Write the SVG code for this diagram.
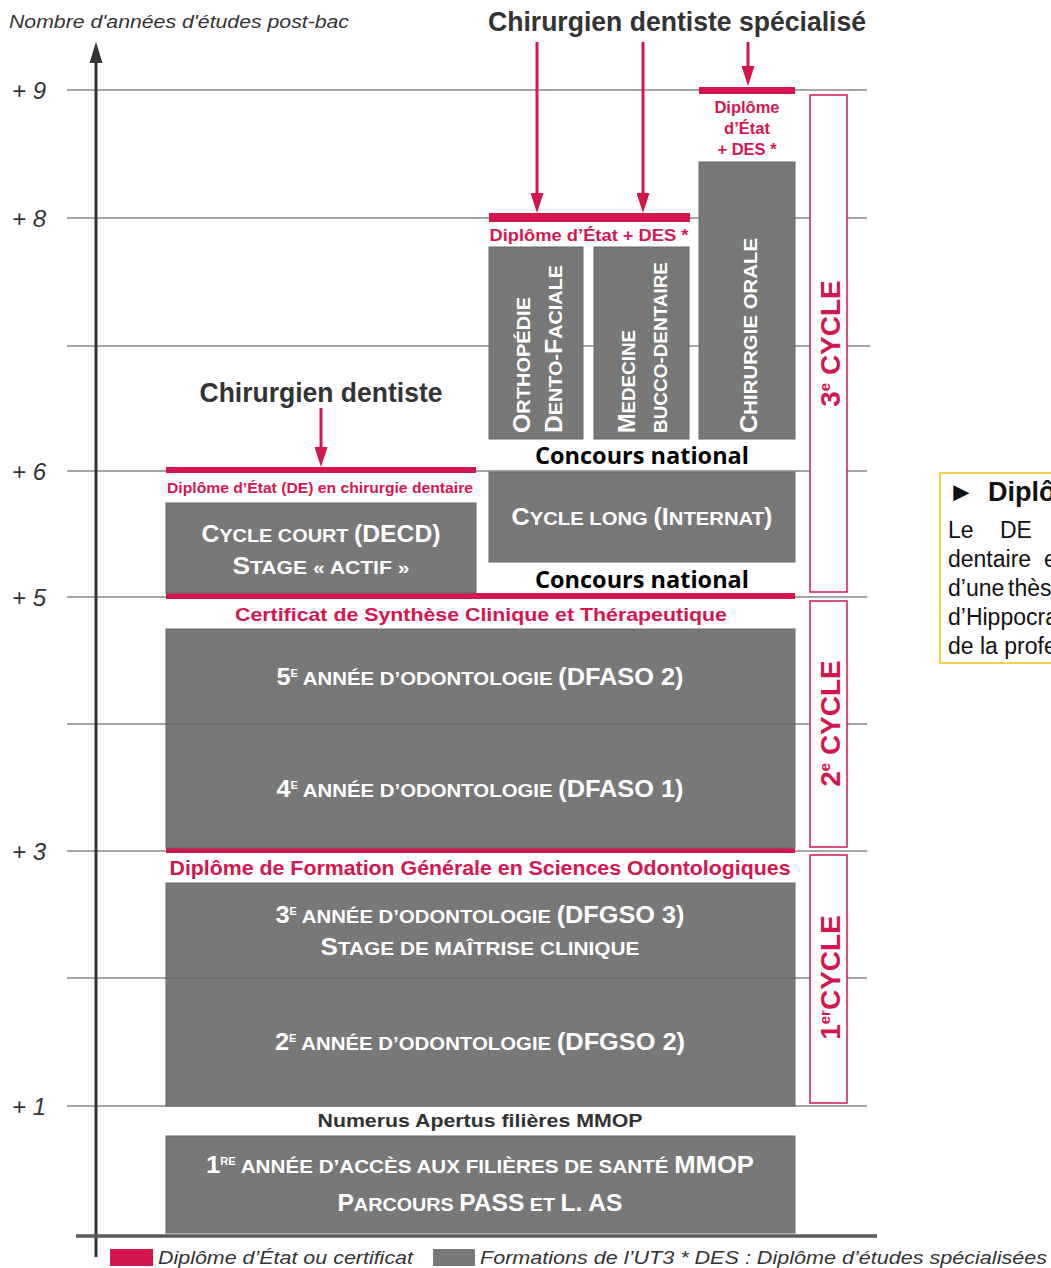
<svg xmlns="http://www.w3.org/2000/svg" width="1051" height="1268" viewBox="0 0 1051 1268">
<defs>
<style>
text{font-family:"Liberation Sans",Arial,sans-serif}
.grid{stroke:#4a4a4a;stroke-width:1}
.box{fill:#787878;stroke:#686868;stroke-width:1}
.red{fill:#d4164f}
.cyc{fill:#fff;stroke:#d4164f;stroke-width:1.5}
.ax{font-style:italic;font-size:24px;fill:#333}
.w{fill:#fff;font-weight:700;text-anchor:middle}
.wv{fill:#fff;font-weight:700}
.b{font-size:23px}
.s{font-size:18.5px}
.sup{font-size:10px}
.rt{fill:#d4164f;font-weight:700;text-anchor:middle}
.title{fill:#333;font-weight:700;font-size:27px;text-anchor:middle}
.conc{font-family:"Open Sans","Liberation Sans",sans-serif;font-weight:700;font-size:23px;fill:#000;text-anchor:middle}
.cl{fill:#d4164f;font-weight:700;font-size:28px;text-anchor:middle}
.leg{font-style:italic;font-size:19px;fill:#333}
.arr{stroke:#d4164f;stroke-width:3;fill:none}
</style>
<marker id="ah" markerUnits="userSpaceOnUse" markerWidth="20" markerHeight="13" refX="8" refY="6.5" orient="auto" viewBox="0 0 20 13">
<path d="M0,0 L20,6.5 L0,13 z" fill="#d4164f"/>
</marker>
</defs>
<rect width="1051" height="1268" fill="#fff"/>

<g id="gridlines">
<line class="grid" x1="67" y1="90" x2="867" y2="90"/>
<line class="grid" x1="67" y1="218" x2="867" y2="218"/>
<line class="grid" x1="67" y1="346" x2="870" y2="346"/>
<line class="grid" x1="67" y1="471" x2="867" y2="471"/>
<line class="grid" x1="67" y1="597" x2="867" y2="597"/>
<line class="grid" x1="67" y1="724" x2="867" y2="724"/>
<line class="grid" x1="67" y1="851" x2="867" y2="851"/>
<line class="grid" x1="67" y1="978" x2="867" y2="978"/>
<line class="grid" x1="67" y1="1106" x2="867" y2="1106"/>
</g>

<g id="axis">
<line x1="96" y1="60" x2="96" y2="1257" stroke="#333" stroke-width="3"/>
<polygon points="96,42 89.5,63 102.5,63" fill="#333"/>
<line x1="76" y1="1236" x2="877" y2="1236" stroke="#5a5a5a" stroke-width="3.5"/>
<text x="9" y="28" font-style="italic" font-size="18" fill="#333" textLength="340" lengthAdjust="spacingAndGlyphs">Nombre d'années d'études post-bac</text>
<text class="ax" x="12" y="99">+ 9</text>
<text class="ax" x="12" y="227">+ 8</text>
<text class="ax" x="12" y="480">+ 6</text>
<text class="ax" x="12" y="606">+ 5</text>
<text class="ax" x="12" y="860">+ 3</text>
<text class="ax" x="12" y="1115">+ 1</text>
</g>

<g id="cycles">
<g id="cycle3">
<rect class="cyc" x="810" y="95" width="37" height="497"/>
<text class="cl" transform="translate(840,343.5) rotate(-90)">3<tspan font-size="15" dy="-10">e</tspan><tspan dy="10"> CYCLE</tspan></text>
</g>
<g id="cycle2">
<rect class="cyc" x="810" y="601" width="37" height="246"/>
<text class="cl" transform="translate(840,723.5) rotate(-90)">2<tspan font-size="15" dy="-10">e</tspan><tspan dy="10"> CYCLE</tspan></text>
</g>
<g id="cycle1">
<rect class="cyc" x="810" y="855" width="37" height="248"/>
<text class="cl" transform="translate(840,977.5) rotate(-90)">1<tspan font-size="15" dy="-10">er</tspan><tspan dy="10">CYCLE</tspan></text>
</g>
</g>

<g id="n-pass">
<text x="480" y="1127" fill="#333" font-weight="700" font-size="18" text-anchor="middle" textLength="325" lengthAdjust="spacingAndGlyphs">Numerus Apertus filières MMOP</text>
<rect class="box" x="166" y="1136" width="629" height="97"/>
<text class="w" x="480" y="1173" textLength="548" lengthAdjust="spacingAndGlyphs"><tspan class="b">1</tspan><tspan class="sup" dy="-8">RE</tspan><tspan class="s" dy="8"> ANNÉE D’ACCÈS AUX FILIÈRES DE SANTÉ </tspan><tspan class="b">MMOP</tspan></text>
<text class="w" x="480" y="1211" textLength="285" lengthAdjust="spacingAndGlyphs"><tspan class="b">P</tspan><tspan class="s">ARCOURS </tspan><tspan class="b">PASS</tspan><tspan class="s"> ET </tspan><tspan class="b">L. AS</tspan></text>
</g>

<g id="n-dfgso2">
<rect class="box" x="166" y="978" width="629" height="128"/>
<text class="w" x="480" y="1050" textLength="410" lengthAdjust="spacingAndGlyphs"><tspan class="b">2</tspan><tspan class="sup" dy="-8">E</tspan><tspan class="s" dy="8"> ANNÉE D’ODONTOLOGIE </tspan><tspan class="b">(DFGSO 2)</tspan></text>
</g>

<g id="n-dfgso3">
<rect class="box" x="166" y="883" width="629" height="95"/>
<text class="w" x="480" y="923" textLength="409" lengthAdjust="spacingAndGlyphs"><tspan class="b">3</tspan><tspan class="sup" dy="-8">E</tspan><tspan class="s" dy="8"> ANNÉE D’ODONTOLOGIE </tspan><tspan class="b">(DFGSO 3)</tspan></text>
<text class="w" x="480" y="955" textLength="319" lengthAdjust="spacingAndGlyphs"><tspan class="b">S</tspan><tspan class="s">TAGE DE MAÎTRISE CLINIQUE</tspan></text>
</g>

<g id="d-dfgso">
<rect class="red" x="166" y="848" width="629" height="5"/>
<text class="rt" x="480" y="875" font-size="19.5" textLength="621" lengthAdjust="spacingAndGlyphs">Diplôme de Formation Générale en Sciences Odontologiques</text>
</g>

<g id="n-dfaso1">
<rect class="box" x="166" y="724" width="629" height="124"/>
<text class="w" x="480" y="797" textLength="407" lengthAdjust="spacingAndGlyphs"><tspan class="b">4</tspan><tspan class="sup" dy="-8">E</tspan><tspan class="s" dy="8"> ANNÉE D’ODONTOLOGIE </tspan><tspan class="b">(DFASO 1)</tspan></text>
</g>

<g id="n-dfaso2">
<rect class="box" x="166" y="629" width="629" height="95"/>
<text class="w" x="480" y="685" textLength="407" lengthAdjust="spacingAndGlyphs"><tspan class="b">5</tspan><tspan class="sup" dy="-8">E</tspan><tspan class="s" dy="8"> ANNÉE D’ODONTOLOGIE </tspan><tspan class="b">(DFASO 2)</tspan></text>
</g>

<g id="d-cstc">
<rect class="red" x="166" y="593" width="629" height="6"/>
<text class="rt" x="481" y="621" font-size="19" textLength="492" lengthAdjust="spacingAndGlyphs">Certificat de Synthèse Clinique et Thérapeutique</text>
</g>

<g id="n-court">
<rect class="box" x="166" y="503" width="310" height="90"/>
<text class="w" x="321" y="542" textLength="239" lengthAdjust="spacingAndGlyphs"><tspan class="b">C</tspan><tspan class="s">YCLE COURT </tspan><tspan class="b">(DECD)</tspan></text>
<text class="w" x="321" y="574" textLength="177" lengthAdjust="spacingAndGlyphs"><tspan class="b">S</tspan><tspan class="s">TAGE « ACTIF »</tspan></text>
</g>

<g id="d-de">
<rect class="red" x="166" y="467" width="310" height="6"/>
<text class="rt" x="320" y="493" font-size="14" textLength="306" lengthAdjust="spacingAndGlyphs">Diplôme d’État (DE) en chirurgie dentaire</text>
</g>

<g id="t-cd">
<text class="title" x="321" y="402" textLength="243" lengthAdjust="spacingAndGlyphs">Chirurgien dentiste</text>
</g>

<g id="n-long">
<text class="conc" x="642" y="588" textLength="214" lengthAdjust="spacingAndGlyphs">Concours national</text>
<rect class="box" x="489" y="472" width="306" height="90"/>
<text class="w" x="642" y="525" textLength="261" lengthAdjust="spacingAndGlyphs"><tspan class="b">C</tspan><tspan class="s">YCLE LONG </tspan><tspan class="b">(I</tspan><tspan class="s">NTERNAT</tspan><tspan class="b">)</tspan></text>
<text class="conc" x="642" y="464" textLength="214" lengthAdjust="spacingAndGlyphs">Concours national</text>
</g>

<g id="n-odf">
<rect class="box" x="489" y="247" width="94" height="192"/>
<text class="wv" transform="translate(530,433) rotate(-90)" textLength="136" lengthAdjust="spacingAndGlyphs"><tspan class="b">O</tspan><tspan class="s">RTHOPÉDIE</tspan></text>
<text class="wv" transform="translate(562,433) rotate(-90)" textLength="168" lengthAdjust="spacingAndGlyphs"><tspan class="b">D</tspan><tspan class="s">ENTO-</tspan><tspan class="b">F</tspan><tspan class="s">ACIALE</tspan></text>
</g>

<g id="n-mbd">
<rect class="box" x="594" y="247" width="95" height="192"/>
<text class="wv" transform="translate(635,433) rotate(-90)" textLength="103" lengthAdjust="spacingAndGlyphs"><tspan class="b">M</tspan><tspan class="s">EDECINE</tspan></text>
<text class="wv" transform="translate(667,433) rotate(-90)" textLength="171" lengthAdjust="spacingAndGlyphs"><tspan class="s">BUCCO-DENTAIRE</tspan></text>
</g>

<g id="d-des1">
<rect class="red" x="489" y="213" width="201" height="9"/>
<text class="rt" x="589" y="241" font-size="17" textLength="199" lengthAdjust="spacingAndGlyphs">Diplôme d’État + DES *</text>
</g>

<g id="n-co">
<rect class="box" x="699" y="162" width="96" height="277"/>
<text class="wv" transform="translate(757,433) rotate(-90)" textLength="195" lengthAdjust="spacingAndGlyphs"><tspan class="b">C</tspan><tspan class="s">HIRURGIE ORALE</tspan></text>
</g>

<g id="d-des2">
<rect class="red" x="699" y="87" width="96" height="7"/>
<text class="rt" x="747" y="113" font-size="16.5">Diplôme</text>
<text class="rt" x="747" y="134" font-size="16.5">d’État</text>
<text class="rt" x="747" y="155" font-size="16.5">+ DES *</text>
</g>

<g id="t-cds">
<text class="title" x="677" y="31" textLength="378" lengthAdjust="spacingAndGlyphs">Chirurgien dentiste spécialisé</text>
</g>

<g id="connectors">
<line class="arr" x1="537" y1="42" x2="537" y2="201" marker-end="url(#ah)"/>
<line class="arr" x1="643" y1="42" x2="643" y2="201" marker-end="url(#ah)"/>
<line class="arr" x1="748" y1="42" x2="748" y2="74" marker-end="url(#ah)"/>
<line class="arr" x1="321" y1="408" x2="321" y2="455" marker-end="url(#ah)"/>
</g>

<g id="infobox">
<rect x="940" y="473" width="130" height="190" fill="#fff" stroke="#f5d04a" stroke-width="2"/>
<text x="948" y="501" font-weight="700" font-size="27" fill="#111">►<tspan x="988">Diplôme</tspan></text>
<text x="948" y="538" font-size="23" fill="#111">Le<tspan x="1000">DE</tspan></text>
<text x="948" y="567" font-size="23" fill="#111">dentaire<tspan x="1044">est</tspan></text>
<text x="948" y="596" font-size="23" fill="#111">d’une<tspan x="1008">thèse</tspan></text>
<text x="948" y="625" font-size="23" fill="#111">d’Hippocrate</text>
<text x="948" y="654" font-size="23" fill="#111">de la profession</text>
</g>

<g id="legend">
<rect x="110" y="1249" width="43" height="17" fill="#d4164f"/>
<text class="leg" x="158" y="1264" textLength="255" lengthAdjust="spacingAndGlyphs">Diplôme d’État ou certificat</text>
<rect x="433" y="1249" width="42" height="17" fill="#787878"/>
<text class="leg" x="480" y="1264" textLength="567" lengthAdjust="spacingAndGlyphs">Formations de l’UT3  * DES : Diplôme d’études spécialisées</text>
</g>
</svg>
